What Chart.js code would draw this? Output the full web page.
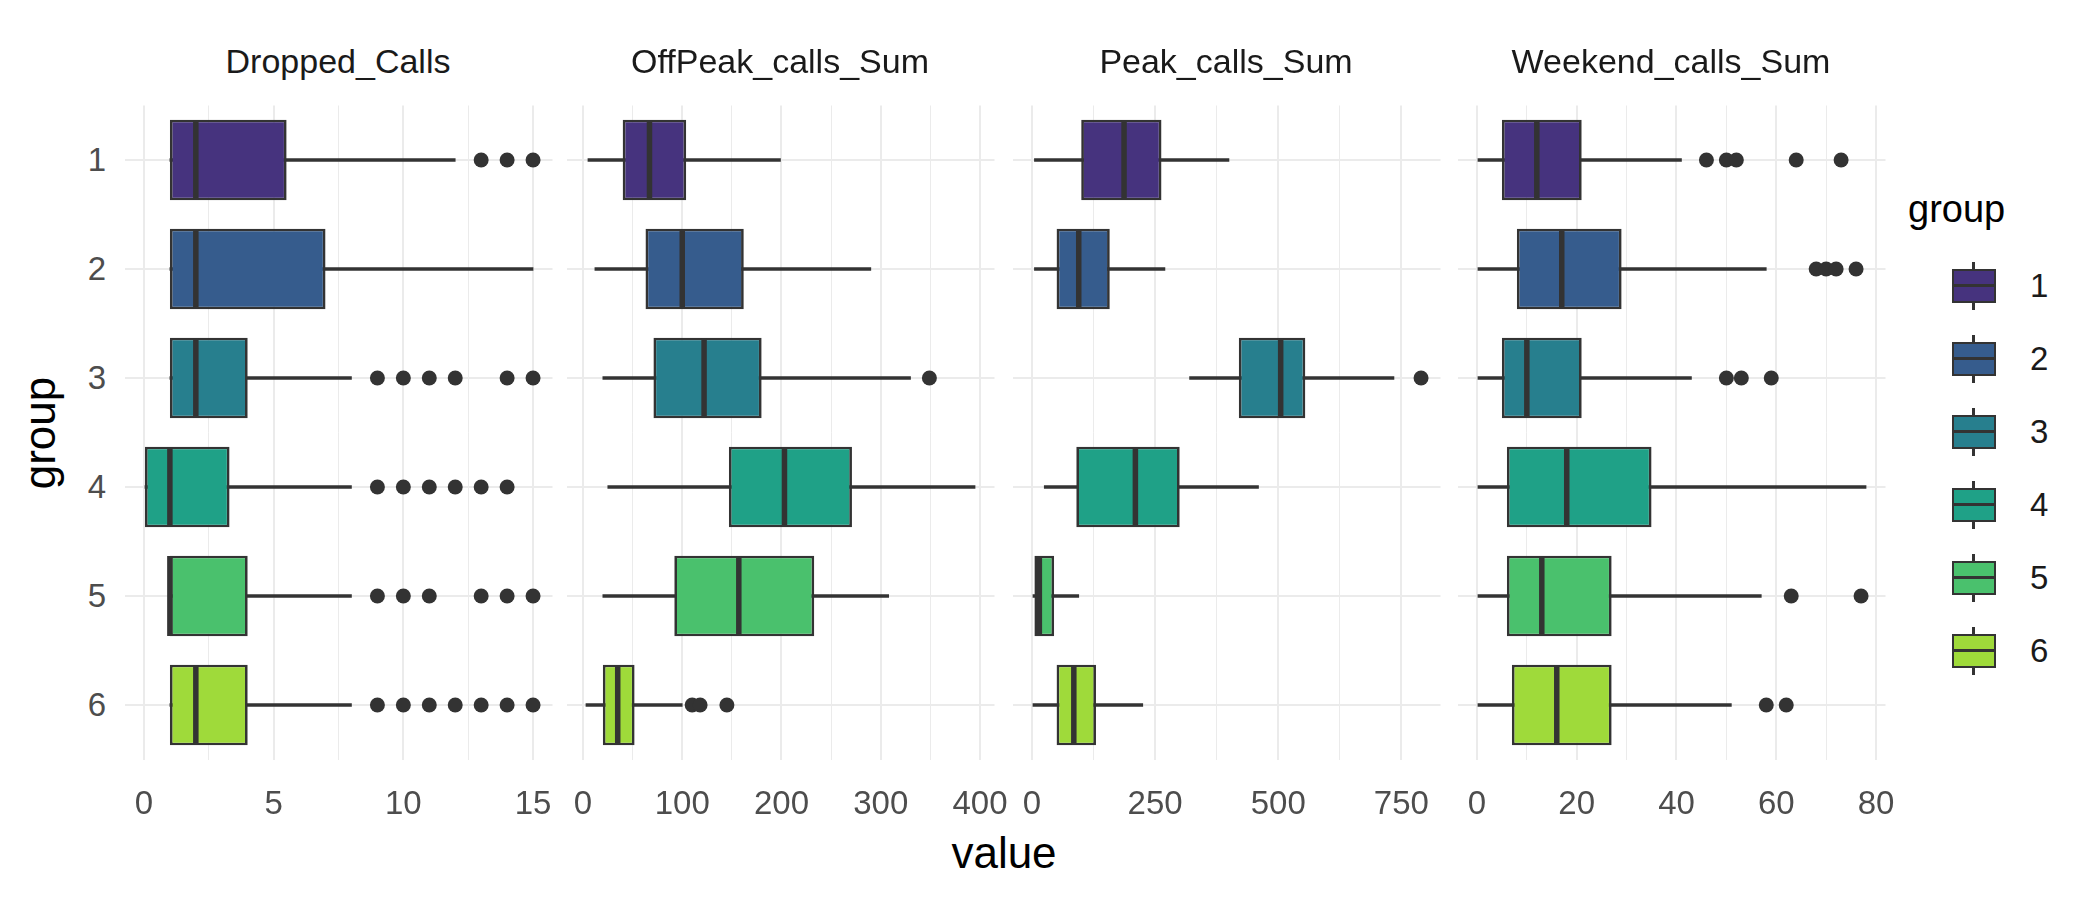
<!DOCTYPE html>
<html><head><meta charset="utf-8">
<script src="https://cdn.jsdelivr.net/npm/chart.js@4"></script>
<style>
body{margin:0;width:2100px;height:900px;background:#fff;font-family:Arial,"Liberation Sans",sans-serif;position:relative;overflow:hidden}
.abs{position:absolute}
.strip{position:absolute;top:42px;width:428px;text-align:center;font-size:34px;color:#1A1A1A}
.ylab{position:absolute;left:40px;width:66px;text-align:right;font-size:33px;color:#4D4D4D;line-height:40px}
.leg{position:absolute;left:1950px;width:48px;height:48px}
.legt{position:absolute;left:2030px;font-size:33px;color:#1A1A1A;line-height:40px}
</style></head><body>
<div id="root"></div>
<script>
const groups=['1','2','3','4','5','6'];
const colors=['#46337E','#365C8D','#277F8E','#1FA187','#4AC16D','#9FDA3A'];
const panelTitles=['Dropped_Calls','OffPeak_calls_Sum','Peak_calls_Sum','Weekend_calls_Sum'];
// [min, q1, median, q3, max] per group
const droppedStats=[[1,1,2,5.5,12],[1,1,2,7,15],[1,1,2,4,8],[0,0,1,3.3,8],[1,1,1,4,8],[1,1,2,4,8]];
const droppedOutliers=[[13,14,15],[],[9,10,11,12,14,15],[9,10,11,12,13,14],[9,10,11,13,14,15],[9,10,11,12,13,14,15]];
const offpeakStats=[[5,40,67,104,199],[12,63,100,162,290],[20,71,122,180,330],[25,147,203,271,395],[20,92,157,233,308],[3,20,35,52,100]];
const offpeakOutliers=[[],[],[349],[],[],[110,118,145]];
const peakStats=[[5,100,187,263,400],[5,50,95,158,270],[320,420,505,555,735],[25,90,210,300,460],[0,5,15,45,95],[0,50,85,130,225]];
const peakOutliers=[[],[],[790],[],[],[]];
const weekendStats=[[0,5,12,21,41],[0,8,17,29,58],[0,5,10,21,43],[0,6,18,35,78],[0,6,13,27,57],[0,7,16,27,51]];
const weekendOutliers=[[46,50,52,64,73],[68,70,72,76],[50,53,59],[],[63,77],[58,62]];
const statsList=[droppedStats,offpeakStats,peakStats,weekendStats];
const outList=[droppedOutliers,offpeakOutliers,peakOutliers,weekendOutliers];
const xMin=[-0.75,-16.6,-39.5,-3.9], xMax=[15.75,414.6,829.5,81.9];
const xMajor=[5,100,250,20];
const lefts=[124,566,1012,1457];
const AREA_TOP=105, AREA_H=654, AREA_W=428;

const root=document.getElementById('root');
function add(html){root.insertAdjacentHTML('beforeend',html);}
groups.forEach((g,i)=>add(`<div class="ylab" style="top:${AREA_TOP+54.5+i*109-20}px">${g}</div>`));
add(`<div class="abs" style="left:18px;top:433px;font-size:44px;color:#000;transform:translate(-50%,-50%) rotate(-90deg);transform-origin:center;left:40px">group</div>`);
add(`<div class="abs" style="left:0;width:2008px;text-align:center;top:828px;font-size:44px;color:#000">value</div>`);
add(`<div class="abs" style="left:1908px;top:188px;font-size:38px;color:#000">group</div>`);
groups.forEach((g,i)=>{
  const y=262+i*73;
  add(`<div class="leg" style="top:${y}px"><div class="abs" style="left:22px;top:0;width:3px;height:48px;background:#333"></div><div class="abs" style="left:2px;top:7px;width:40px;height:30px;background:${colors[i]};border:2.5px solid #333"></div><div class="abs" style="left:3px;top:22px;width:42px;height:3px;background:#333"></div></div><div class="legt" style="top:${y+4}px">${g}</div>`);
});

const isMajor=(v,maj)=>Math.abs(v/maj-Math.round(v/maj))<1e-6;
panelTitles.forEach((t,p)=>{
  add(`<div class="strip" style="left:${lefts[p]}px">${t}</div>`);
  add(`<div class="abs" id="w${p}" style="left:${lefts[p]}px;top:${AREA_TOP}px;width:${AREA_W}px;height:740px"><canvas id="c${p}"></canvas></div>`);
});
panelTitles.forEach((t,p)=>{
  const st=statsList[p];
  const outs=[];
  outList[p].forEach((arr,i)=>arr.forEach(v=>outs.push({x:v,y:groups[i]})));
  const maj=xMajor[p];
  const chart=new Chart(document.getElementById('c'+p),{
    type:'bar',
    data:{labels:groups,datasets:[
      {data:st.map(s=>[s[0],s[4]]),backgroundColor:'#333',barThickness:3,grouped:false,order:4},
      {data:st.map(s=>[s[1],s[3]]),backgroundColor:colors,borderColor:'#333',borderWidth:2.7,borderSkipped:false,barPercentage:0.74,categoryPercentage:1,grouped:false,order:3},
      {type:'line',data:st.map((s,i)=>({x:s[2],y:groups[i]})),showLine:false,pointStyle:'line',rotation:90,pointRadius:40,pointBorderWidth:5.5,pointBorderColor:'#333',order:2},
      {type:'line',data:outs,showLine:false,pointRadius:7.5,pointBackgroundColor:'#333',pointBorderColor:'#333',pointBorderWidth:0,order:1}
    ]},
    options:{indexAxis:'y',responsive:true,maintainAspectRatio:false,animation:false,
      layout:{padding:0},
      plugins:{legend:{display:false},tooltip:{enabled:false}},
      scales:{
        y:{type:'category',display:true,offset:true,border:{display:false},ticks:{display:false},grid:{offset:false,color:'#EBEBEB',lineWidth:2,drawTicks:false},afterFit:s=>{s.width=0;}},
        x:{type:'linear',min:xMin[p],max:xMax[p],border:{display:false},
          afterBuildTicks:s=>{const ts=[];const h=maj/2;for(let v=Math.ceil(xMin[p]/h)*h;v<=xMax[p]+1e-9;v+=h)ts.push({value:Math.round(v*1000)/1000});s.ticks=ts;},
          ticks:{font:{size:33,family:'Arial'},color:'#4D4D4D',padding:26,maxRotation:0,autoSkip:false,
            callback:v=>isMajor(v,maj)?String(v):''},
          grid:{drawTicks:false,color:'#EBEBEB',lineWidth:c=>{const v=c.tick?c.tick.value:0;return isMajor(v,maj)?2:1;}}}
      }}
  });
  const w=document.getElementById('w'+p);
  for(let k=0;k<3;k++){
    const a=chart.chartArea, W=chart.width, H=chart.height;
    const nl=lefts[p]-a.left, nt=AREA_TOP-a.top;
    const nw=AREA_W+a.left+(W-a.right), nh=AREA_H+a.top+(H-a.bottom);
    w.style.left=nl+'px';w.style.top=nt+'px';w.style.width=nw+'px';w.style.height=nh+'px';
    chart.resize(nw,nh);
  }
});
</script></body></html>
